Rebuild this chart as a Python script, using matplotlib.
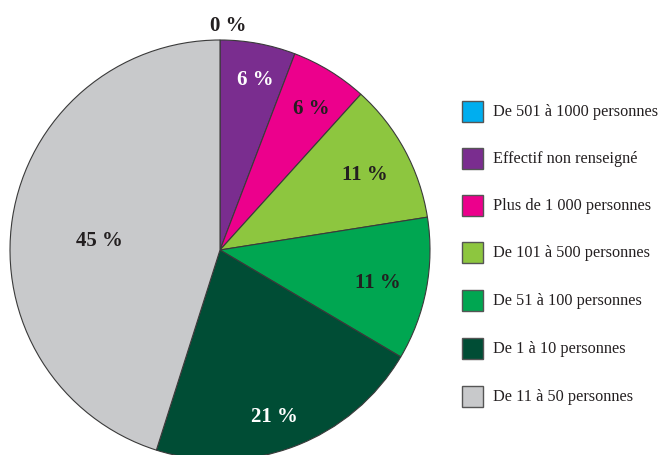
import matplotlib.pyplot as plt
import numpy as np
from matplotlib.patches import Rectangle

# Données (sens horaire depuis midi)
categories = ["De 501 à 1000 personnes", "Effectif non renseigné", "Plus de 1 000 personnes",
              "De 101 à 500 personnes", "De 51 à 100 personnes", "De 1 à 10 personnes",
              "De 11 à 50 personnes"]
values = [0.0, 5.8, 5.9, 10.8, 11.0, 21.4, 45.1]
pct_labels = ["0 %", "6 %", "6 %", "11 %", "11 %", "21 %", "45 %"]
colors = ["#00AEEF", "#7A2D8F", "#EC008C", "#8DC63F", "#00A651", "#004D35", "#C8C9CB"]
label_colors = ["#231F20", "white", "#231F20", "#231F20", "#231F20", "white", "#231F20"]
# placement des étiquettes : distance au centre (fraction du rayon) et petit décalage d'angle
label_dist = [1.08, 0.84, 0.81, 0.78, 0.765, 0.825, 0.576]
label_shift = [-2.0, -1.0, -0.8, -0.4, -0.3, -2.6, 3.3]

W, H = 662, 455
fig = plt.figure(figsize=(W / 100, H / 100), dpi=100)

# camembert : centre (220, 250) px, rayon 210 px
cx, cy, r = 220, 250, 210
ax = fig.add_axes([(cx - r) / W, (H - cy - r) / H, 2 * r / W, 2 * r / H])
wedges, _ = ax.pie(values, colors=colors, startangle=90, counterclock=False,
                   wedgeprops=dict(edgecolor="#3a3a3a", linewidth=0.8))
ax.set_xlim(-1, 1)
ax.set_ylim(-1, 1)
ax.set_aspect("equal")
ax.axis("off")

for w, lab, col, d, s in zip(wedges, pct_labels, label_colors, label_dist, label_shift):
    ang = np.deg2rad((w.theta1 + w.theta2) / 2 + s)
    ax.text(d * np.cos(ang), d * np.sin(ang), lab, ha="center", va="center_baseline",
            fontsize=15, fontweight="bold", family="Liberation Serif", color=col,
            clip_on=False)

# légende dessinée à la main
lax = fig.add_axes([0, 0, 1, 1])
lax.set_xlim(0, W)
lax.set_ylim(H, 0)
lax.axis("off")
rows = [111, 158, 205, 252, 300, 348, 396]
for y, c, name in zip(rows, colors, categories):
    lax.add_patch(Rectangle((462, y - 10.5), 21, 21, facecolor=c, edgecolor="#555555", linewidth=1))
    lax.text(493, y + 1, name, ha="left", va="center", fontsize=11.7,
             family="Liberation Serif", color="#231F20")

fig.savefig("out.png", dpi=100)
